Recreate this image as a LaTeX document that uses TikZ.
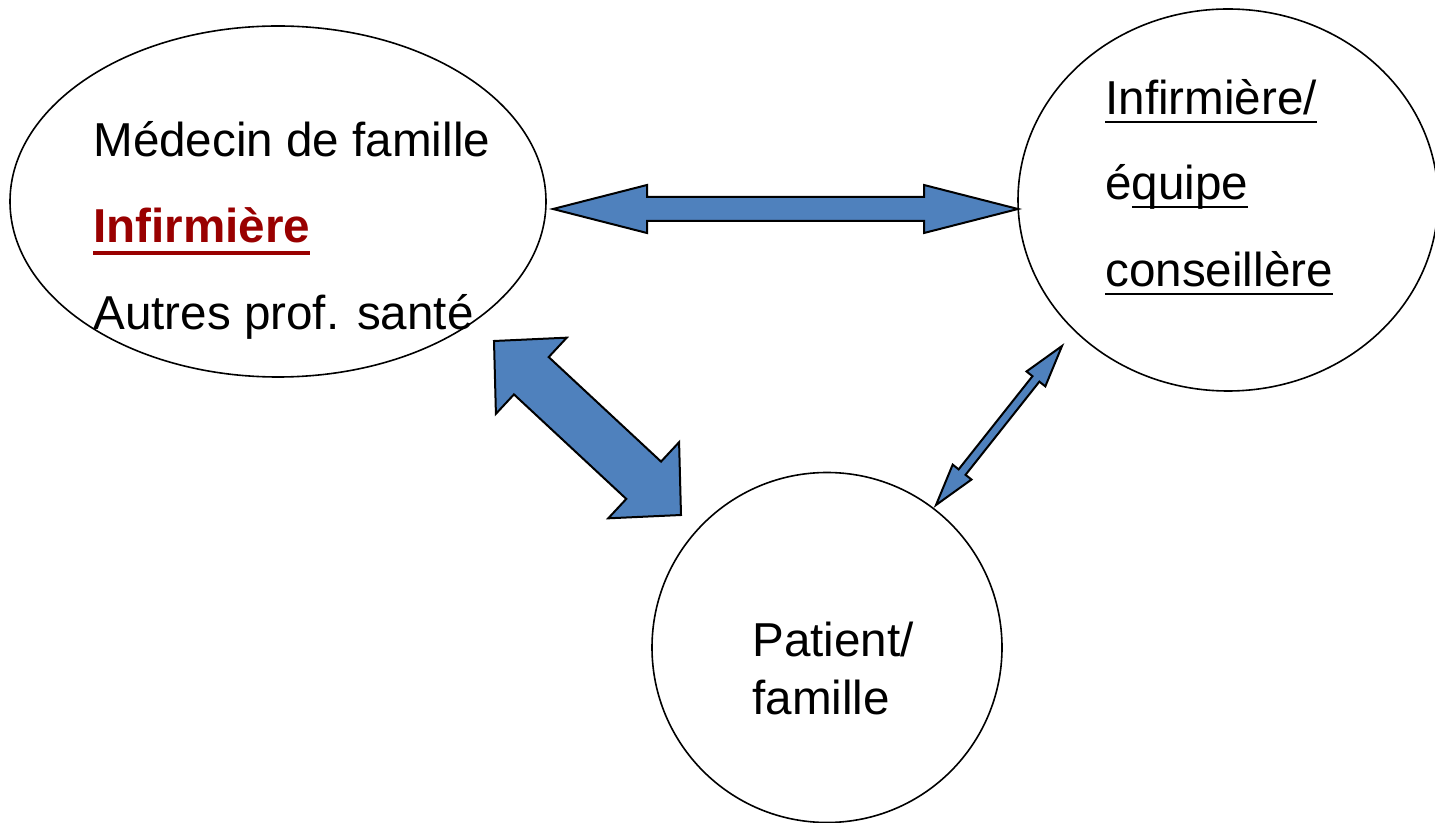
\documentclass[tikz,border=0pt]{standalone}
\usepackage{fontspec}
\setmainfont{Liberation Sans}
\usetikzlibrary{shapes.geometric,calc}
\definecolor{arrowblue}{HTML}{4F81BD}
\definecolor{darkred}{HTML}{990000}
\newcommand\ulthin[1]{\setbox0\hbox{#1}\rlap{\rule[-4pt]{\wd0}{1pt}}\box0}
\newcommand\ulthick[1]{\setbox0\hbox{#1}\rlap{\rule[-5.8pt]{\wd0}{1.6pt}}\box0}
\tikzset{
  shapeline/.style={draw=black, line width=0.8pt},
  blockarrow/.style={draw=black, fill=arrowblue, line width=1pt, line join=miter},
  label/.style={anchor=base west, inner sep=0pt, font=\fontsize{23.8pt}{28pt}\selectfont},
}
\newcommand\dblarrow[5]{%
 \draw[blockarrow] (#1)
 -- ($(#1)!#5!(#2)!#4!90:(#2)$)
 -- ($(#1)!#5!(#2)!#3!90:(#2)$)
 -- ($(#2)!#5!(#1)!#3!-90:(#1)$)
 -- ($(#2)!#5!(#1)!#4!-90:(#1)$)
 -- (#2)
 -- ($(#2)!#5!(#1)!#4!90:(#1)$)
 -- ($(#2)!#5!(#1)!#3!90:(#1)$)
 -- ($(#1)!#5!(#2)!#3!-90:(#2)$)
 -- ($(#1)!#5!(#2)!#4!-90:(#2)$)
 -- cycle;}
\begin{document}
\begin{tikzpicture}[x=0.5pt, y=-0.5pt]
\useasboundingbox (0,0) rectangle (1435,823);
\clip (0,0) rectangle (1435,823);
\fill[white] (0,0) rectangle (1435,823);

% shapes
\node[ellipse, shapeline, minimum width=268pt, minimum height=175.5pt, inner sep=0pt] (medecin) at (278,201.5) {};
\node[ellipse, shapeline, minimum width=210pt, minimum height=191pt, inner sep=0pt] (equipe) at (1228,200) {};
\node[circle, shapeline, minimum size=175pt, inner sep=0pt] (patient) at (827,647.5) {};

% texts
\node[label] (t1) at (93,157) {Médecin de famille};
\node[label, text=darkred, font=\fontsize{23.8pt}{28pt}\selectfont\bfseries] (t2) at (93,243) {\ulthick{Infirmière}};
\node[label] (t3) at (93,330) {Autres prof. santé};
\node[label] (t4) at (1105,115) {\ulthin{Infirmière/}};
\node[label] (t5) at (1105,200) {é\ulthin{quipe}};
\node[label] (t6) at (1105,287) {\ulthin{conseillère}};
\node[label] (t7) at (752,656) {Patient/};
\node[label] (t8) at (752,714) {famille};

% arrow end points
\coordinate (hA) at (553,209);
\coordinate (hB) at (1018,209);
\coordinate (dA) at (494,341);
\coordinate (dB) at (681,515);
\coordinate (sA) at (1062,346);
\coordinate (sB) at (936,505);

\dblarrow{hA}{hB}{6pt}{12pt}{47pt}
\dblarrow{dA}{dB}{12.75pt}{26pt}{25.5pt}
\dblarrow{sA}{sB}{2.2pt}{6pt}{21pt}
\end{tikzpicture}
\end{document}
